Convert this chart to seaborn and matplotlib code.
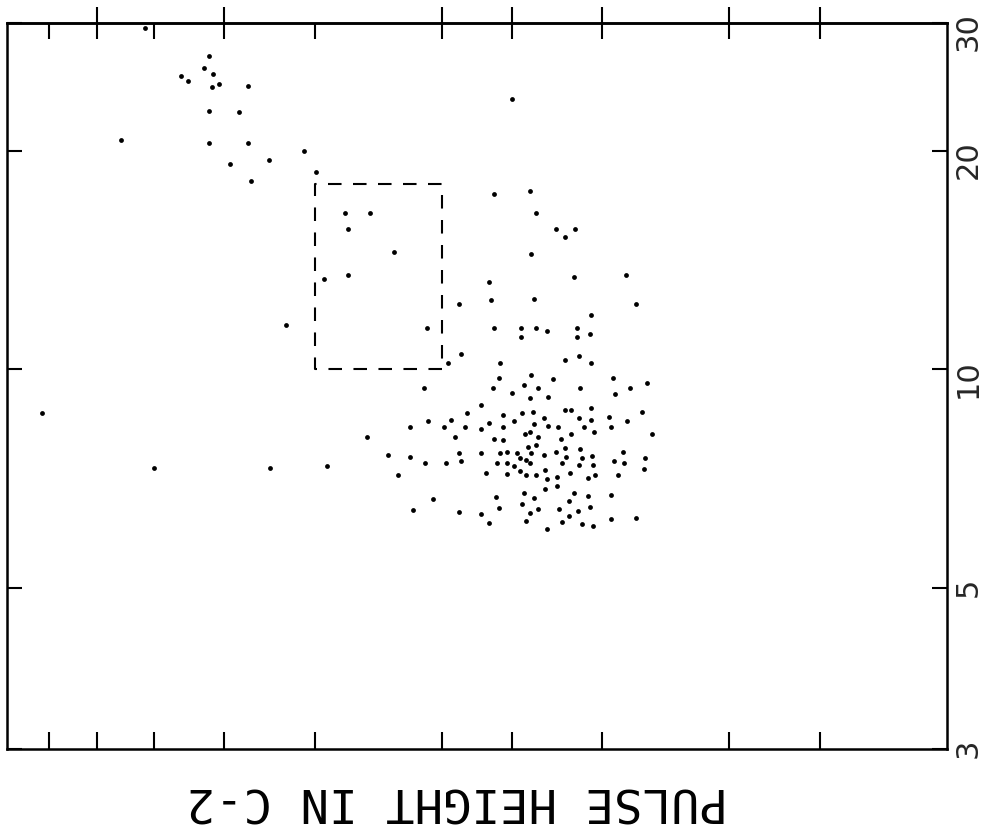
import matplotlib
matplotlib.use('Agg')
import matplotlib.pyplot as plt
import seaborn as sns
import pandas as pd
from matplotlib.ticker import FixedLocator, NullFormatter, FixedFormatter, NullLocator

sns.set_style('white')
plt.rcParams['font.family'] = ['DejaVu Sans']

# pulse height in counter C-1 (horizontal, reversed log axis)
ph_c1 = [
    12.9, 10.5, 10.66, 11.5, 11.25, 10.36, 10.4, 10.16, 9.29, 10.5,
    9.56, 13.9, 10.5, 9.27, 7.77, 9.84, 8.69, 9.2, 7.46, 4.00,
    6.82, 6.28, 6.75, 5.83, 7.29, 6.75, 8.23, 5.25,
    4.24, 3.78, 3.71, 3.48, 3.38, 3.27, 3.77, 3.28, 2.78, 4.31,
    4.28, 3.73, 2.69, 4.73, 3.11, 4.23, 3.89, 3.70, 3.58, 3.25,
    3.12, 3.89, 3.25, 4.71, 4.91, 4.15, 3.38, 3.23, 3.11,
    4.17, 3.77, 3.51, 2.90, 2.60, 5.30, 3.85, 3.68, 4.25, 3.22,
    2.75, 4.00, 2.88, 3.78, 3.57, 4.42, 3.38, 3.31, 3.11, 2.64,
    4.62, 3.88, 3.74, 4.11, 3.61, 3.23, 3.11, 2.94, 4.86, 3.97,
    5.23, 4.30, 2.77, 3.73, 3.57, 3.45, 3.18, 2.92, 5.54, 4.97,
    4.64, 4.42, 4.11, 3.84, 3.78, 3.68, 3.42, 3.31, 3.08, 2.56,
    6.35, 4.79, 4.23, 4.12, 3.70, 3.80, 3.38, 3.22, 2.81, 4.06,
    3.94, 3.76, 3.61, 3.48, 3.10, 2.62, 3.90, 3.83, 3.37, 3.20,
    2.89, 5.93, 5.54, 4.74, 4.41, 4.16, 5.28, 4.94, 4.71, 4.19,
    4.06, 3.97, 3.78, 3.41, 3.23, 3.09, 2.80, 2.63, 3.90, 3.60,
    5.76, 4.34, 4.06, 3.83, 3.70, 3.46, 3.32, 3.07, 2.85, 3.58,
    3.14, 3.47, 3.60, 3.85, 3.28, 3.14, 2.92, 3.73, 4.21, 5.15,
    3.34, 3.88, 3.68, 3.44, 3.12, 4.17, 5.49, 4.73, 4.41, 3.78,
    3.24, 3.34, 3.82, 3.41, 3.20, 3.09, 2.92, 2.69, 3.58, 4.30,
    17.9, 12.5, 8.66, 7.22,
]

# pulse height in counter C-2 (vertical log axis)
ph_c2 = [
    29.5, 27.0, 26.0, 25.4, 25.0, 25.55, 24.5, 24.7, 24.6, 22.7,
    22.65, 20.7, 20.5, 20.5, 20.0, 19.2, 19.4, 18.2, 18.7, 23.6,
    16.4, 16.4, 15.6, 14.5, 13.3, 13.5, 11.5, 11.4,
    17.45, 17.6, 16.4, 15.6, 15.2, 15.6, 14.4, 13.4, 13.5, 13.2,
    12.45, 12.5, 12.3, 12.3, 11.9, 11.4, 11.4, 11.4, 11.3, 11.4,
    11.2, 11.1, 11.1, 10.5, 10.2, 10.2, 10.3, 10.45, 10.2,
    9.72, 9.81, 9.69, 9.72, 9.59, 9.44, 9.53, 9.44, 9.42, 9.42,
    9.42, 9.27, 9.24, 9.12, 9.15, 8.92, 8.78, 8.78, 8.84, 8.75,
    8.72, 8.70, 8.75, 8.64, 8.58, 8.56, 8.53, 8.61, 8.53, 8.50,
    8.48, 8.45, 8.48, 8.42, 8.37, 8.34, 8.34, 8.34, 8.34, 8.34,
    8.34, 8.29, 8.32, 8.16, 8.21, 8.08, 8.03, 8.16, 8.21, 8.16,
    8.06, 8.06, 8.03, 8.00, 7.88, 7.83, 7.80, 7.78, 7.70, 7.70,
    7.68, 7.66, 7.63, 7.70, 7.61, 7.54, 7.54, 7.51, 7.58, 7.54,
    7.49, 7.63, 7.58, 7.68, 7.68, 7.68, 7.44, 7.42, 7.49, 7.44,
    7.42, 7.37, 7.42, 7.42, 7.39, 7.39, 7.42, 7.30, 7.25, 7.27,
    7.16, 7.21, 7.18, 7.16, 7.16, 7.12, 7.21, 7.16, 7.16, 7.07,
    7.09, 6.91, 6.85, 6.76, 6.76, 6.70, 6.72, 6.66, 6.68, 6.63,
    6.59, 6.53, 6.43, 6.43, 6.47, 6.45, 6.41, 6.37, 6.33, 6.35,
    6.39, 6.29, 6.19, 6.17, 6.13, 6.09, 6.23, 6.25, 6.03, 6.15,
    8.70, 7.32, 7.32, 7.35,
]

# dashed selection window
box_c1 = [5.0, 7.5]
box_c2 = [10.0, 18.0]

# axis ticks
x_major = [15, 10, 5, 4, 3, 2, 1.5]
x_minor = [17.5, 12.5, 7.5]
y_ticks = [3, 5, 10, 20, 30]
y_labels = ['3', '5', '10', '20', '30']
axis_label = 'PULSE HEIGHT IN C-2'

fig = plt.figure(figsize=(9.94, 8.29), dpi=100)
ax = fig.add_axes([0.007, 0.0953, 0.9457, 0.8757])

df = pd.DataFrame({'c1': ph_c1, 'c2': ph_c2})
sns.scatterplot(data=df, x='c1', y='c2', ax=ax, color='black', s=12,
                linewidth=0, marker='o', legend=False)

ax.set_xscale('log')
ax.set_yscale('log')
ax.set_xlim(20, 1)
ax.set_ylim(3, 30)

bx = [box_c1[0], box_c1[1], box_c1[1], box_c1[0], box_c1[0]]
by = [box_c2[0], box_c2[0], box_c2[1], box_c2[1], box_c2[0]]
ax.plot(bx, by, color='black', lw=1.5, ls=(0, (6.5, 5.5)))

for s in ax.spines.values():
    s.set_color('black')
    s.set_linewidth(1.8)

# x ticks: bottom inward only
ax.xaxis.set_major_locator(FixedLocator(x_major + x_minor))
ax.xaxis.set_minor_locator(NullLocator())
ax.xaxis.set_major_formatter(NullFormatter())
ax.tick_params(axis='x', which='major', direction='in', length=12.5, width=1.5,
               color='black', top=False, bottom=True, labelbottom=False)

sec = ax.secondary_xaxis('top')
sec.set_xticks(x_major)
sec.set_xticks(x_minor, minor=True)
sec.xaxis.set_major_formatter(NullFormatter())
sec.xaxis.set_minor_formatter(NullFormatter())
sec.tick_params(which='major', direction='inout', length=23, width=1.5, color='black')
sec.tick_params(which='minor', direction='in', length=11.5, width=1.5, color='black')
sec.spines['top'].set_linewidth(1.8)
sec.spines['top'].set_color('black')

# y ticks: labels on right, rotated
ax.yaxis.set_major_locator(FixedLocator(y_ticks))
ax.yaxis.set_major_formatter(FixedFormatter(y_labels))
ax.yaxis.set_minor_locator(NullLocator())
ax.tick_params(axis='y', which='major', direction='in', length=11, width=1.5,
               color='black', left=True, right=True, labelleft=False,
               labelright=True, labelrotation=90, labelsize=22, pad=5)
ax.set_xlabel('')
ax.set_ylabel('')

fig.text(0.46, 0.035, axis_label, rotation=180, ha='center', va='center',
         fontsize=34, color='black', family=['DejaVu Sans Mono'])

fig.savefig('out.png', dpi=100, facecolor='white')
